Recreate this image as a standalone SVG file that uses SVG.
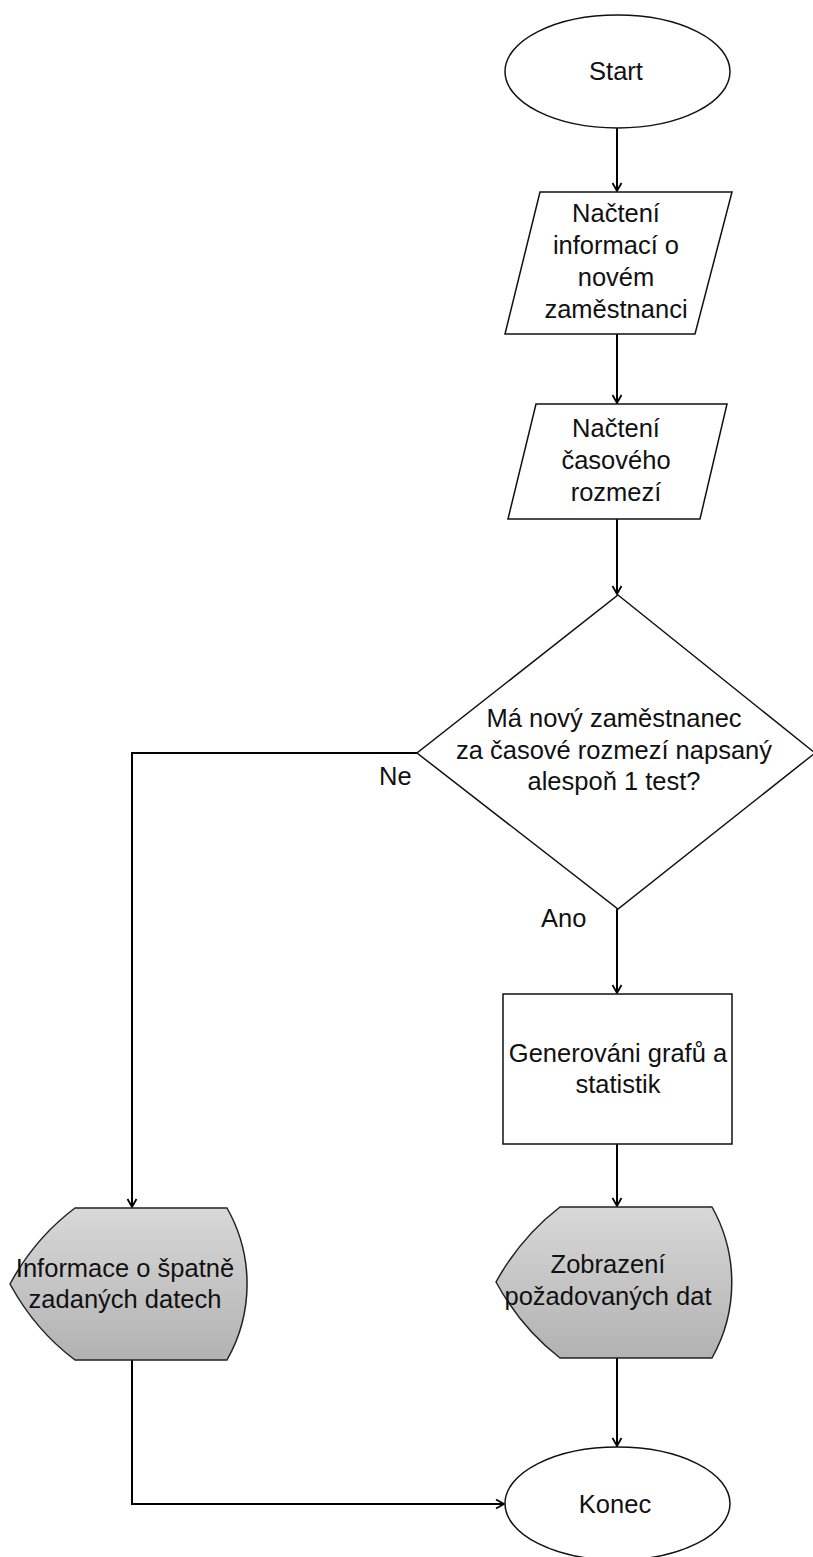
<svg xmlns="http://www.w3.org/2000/svg" width="813" height="1557" viewBox="0 0 813 1557">
<style>
.shape{fill:#fff;stroke:#111;stroke-width:1.5}
.disp{fill:url(#g);stroke:#222;stroke-width:1.5}
.conn{fill:none;stroke:#000;stroke-width:2}
text{font-family:"Liberation Sans",Arial,sans-serif;font-size:25.5px;fill:#111;text-anchor:middle}
.lbl{text-anchor:start}
</style>
<defs>
<linearGradient id="g" x1="0" y1="0" x2="0" y2="1">
<stop offset="0" stop-color="#d8d8d8"/>
<stop offset="1" stop-color="#b2b2b2"/>
</linearGradient>
<marker id="arr" markerWidth="12" markerHeight="12" refX="10" refY="6" orient="auto" markerUnits="userSpaceOnUse">
<path d="M2,1.5 L10,6 L2,10.5" fill="none" stroke="#000" stroke-width="1.8"/>
</marker>
</defs>
<g id="connectors">
<path class="conn" d="M617,128 V191" marker-end="url(#arr)"/>
<path class="conn" d="M617,334 V403" marker-end="url(#arr)"/>
<path class="conn" d="M617,519 V594" marker-end="url(#arr)"/>
<path class="conn" d="M617,909 V993" marker-end="url(#arr)"/>
<path class="conn" d="M617,1144 V1206" marker-end="url(#arr)"/>
<path class="conn" d="M617,1358 V1446" marker-end="url(#arr)"/>
<path class="conn" d="M417,753 H132 V1207" marker-end="url(#arr)"/>
<path class="conn" d="M132,1360 V1504 H504" marker-end="url(#arr)"/>
<text class="lbl" x="379" y="785">Ne</text>
<text class="lbl" x="541" y="927">Ano</text>
</g>
<g id="start">
<ellipse class="shape" cx="617.5" cy="71.5" rx="112.5" ry="56.5"/>
<text x="616" y="80">Start</text>
</g>
<g id="input1">
<polygon class="shape" points="540,192 732,192 695,334 505,334"/>
<text x="616" y="222">Načtení</text>
<text x="616" y="254">informací o</text>
<text x="616" y="286">novém</text>
<text x="616" y="318">zaměstnanci</text>
</g>
<g id="input2">
<polygon class="shape" points="536,404 727,404 700,519 508,519"/>
<text x="616" y="437">Načtení</text>
<text x="616" y="469">časového</text>
<text x="616" y="501">rozmezí</text>
</g>
<g id="decision">
<polygon class="shape" points="618,595 815,753 618,909 417,753"/>
<text x="614" y="727">Má nový zaměstnanec</text>
<text x="614" y="759">za časové rozmezí napsaný</text>
<text x="614" y="790">alespoň 1 test?</text>
</g>
<g id="process">
<rect class="shape" x="503" y="994" width="229" height="150"/>
<text x="618" y="1062">Generováni grafů a</text>
<text x="618" y="1093">statistik</text>
</g>
<g id="display-error">
<path class="disp" d="M75,1208 H227 A154,154 0 0 1 227,1360 H75 Q35,1330 10,1284 Q35,1238 75,1208 Z"/>
<text x="125" y="1277">Informace o špatně</text>
<text x="125" y="1308">zadaných datech</text>
</g>
<g id="display-data">
<path class="disp" d="M560,1207 H712 A154,154 0 0 1 712,1358 H560 Q521,1328 496,1282 Q521,1237 560,1207 Z"/>
<text x="608" y="1273">Zobrazení</text>
<text x="608" y="1305">požadovaných dat</text>
</g>
<g id="end">
<ellipse class="shape" cx="617.5" cy="1503.5" rx="112.5" ry="56.5"/>
<text x="615" y="1513">Konec</text>
</g>
</svg>
